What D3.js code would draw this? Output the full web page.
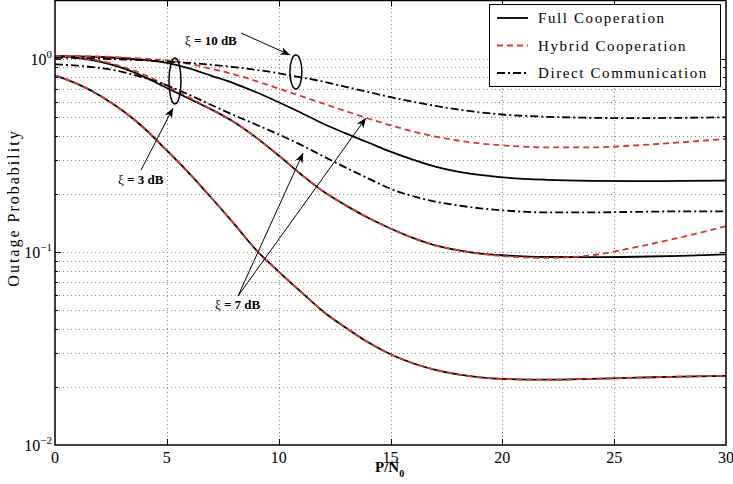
<!DOCTYPE html>
<meta charset='utf-8'>
<style>
    body { margin: 0; background: #fff; }
    svg text { font-family: 'Liberation Serif', 'Times New Roman', Times, serif; }
</style>
<body>
    <script src='https://d3js.org/d3.v7.min.js'></script>
    <script>
        var width = 733,
            height = 484;

        // P/N0 sample points
        var xs = [0,1,2,3,4,5,6,7,8,9,10,11,12,13,14,15,16,17,18,19,20,22,24,26,28,30];

        // xi = 10 dB group
        var full10   = [1.03,1.028,1.02,1.005,0.985,0.95,0.89,0.815,0.745,0.67,0.595,0.525,0.46,0.41,0.368,0.33,0.3,0.276,0.26,0.25,0.243,0.236,0.233,0.232,0.233,0.234];
        var hybrid10 = [1.03,1.03,1.025,1.015,1.0,0.98,0.94,0.885,0.83,0.765,0.70,0.64,0.585,0.535,0.49,0.452,0.42,0.395,0.377,0.364,0.356,0.347,0.347,0.356,0.369,0.384];
        var direct10 = [1.01,1.008,1.0,0.99,0.98,0.965,0.95,0.93,0.905,0.875,0.84,0.8,0.76,0.715,0.672,0.632,0.598,0.57,0.546,0.527,0.514,0.5,0.494,0.492,0.494,0.497];
        // xi = 7 dB group
        var full7    = [1.03,1.01,0.965,0.895,0.805,0.705,0.62,0.545,0.47,0.39,0.315,0.252,0.205,0.174,0.15,0.132,0.118,0.108,0.102,0.098,0.096,0.094,0.0938,0.0943,0.0953,0.097];
        var hybrid7  = [1.03,1.015,0.975,0.91,0.825,0.725,0.63,0.545,0.47,0.39,0.315,0.252,0.205,0.174,0.15,0.132,0.118,0.108,0.102,0.098,0.095,0.093,0.096,0.106,0.119,0.136];
        var direct7  = [0.935,0.92,0.895,0.855,0.795,0.727,0.65,0.575,0.51,0.455,0.405,0.358,0.312,0.273,0.24,0.212,0.194,0.182,0.174,0.168,0.164,0.16,0.16,0.161,0.162,0.162];
        // xi = 3 dB group
        var full3    = [0.82,0.74,0.645,0.54,0.435,0.335,0.255,0.19,0.14,0.102,0.079,0.062,0.049,0.0405,0.034,0.0295,0.0265,0.0245,0.0232,0.0224,0.022,0.0218,0.022,0.0223,0.0226,0.0228];
        var hybrid3  = [0.82,0.74,0.645,0.54,0.435,0.335,0.255,0.19,0.14,0.102,0.079,0.062,0.049,0.0405,0.034,0.0295,0.0265,0.0245,0.0232,0.0224,0.022,0.0218,0.022,0.0223,0.0226,0.0228];

        var xTicks = [0,5,10,15,20,25,30];
        var yDecades = [0.01, 0.1, 1];
        var yExps = ['\u22122', '\u22121', '0'];
        var legendLabels = ['Full Cooperation', 'Hybrid Cooperation', 'Direct Communication'];

        var red = '#d8372b';
        var styles = {
            full:   { color: '#000', dash: null },
            hybrid: { color: red, dash: '6,4' },
            direct: { color: '#000', dash: '8,3,2,3' }
        };

        var svg = d3.select('body').append('svg')
            .attr('width', width)
            .attr('height', height)
            .style('display', 'block');

        var x = d3.scaleLinear().domain([0, 30]).range([55, 726]);
        var y = d3.scaleLog().domain([0.01, 2]).range([445, 0.5]);

        // grid
        var minors = [];
        [0.01, 0.1, 1].forEach(function(d) {
            for (var k = 1; k <= 9; k++) if (d * k < 2) minors.push(d * k);
        });
        var grid = svg.append('g').attr('stroke', '#8a8a8a').attr('stroke-width', 1).attr('stroke-dasharray', '1,3');
        grid.selectAll('.gy').data(minors.filter(function(d) { return d > 0.01; })).enter().append('line')
            .attr('x1', x(0)).attr('x2', x(30))
            .attr('y1', function(d) { return Math.round(y(d)) + 0.5; })
            .attr('y2', function(d) { return Math.round(y(d)) + 0.5; });
        grid.selectAll('.gx').data(xTicks.slice(1, -1)).enter().append('line')
            .attr('y1', y(0.01)).attr('y2', y(2))
            .attr('x1', function(d) { return Math.round(x(d)) + 0.5; })
            .attr('x2', function(d) { return Math.round(x(d)) + 0.5; });

        // curves
        var line = d3.line()
            .x(function(d) { return x(d[0]); })
            .y(function(d) { return y(d[1]); })
            .curve(d3.curveMonotoneX);

        var series = [
            [full10, 'full'], [full7, 'full'], [full3, 'full'],
            [hybrid10, 'hybrid'], [hybrid7, 'hybrid'], [hybrid3, 'hybrid'],
            [direct10, 'direct'], [direct7, 'direct']
        ];
        svg.append('g').selectAll('path').data(series).enter().append('path')
            .attr('fill', 'none')
            .attr('stroke', function(d) { return styles[d[1]].color; })
            .attr('stroke-width', 1.8)
            .attr('stroke-dasharray', function(d) { return styles[d[1]].dash; })
            .attr('d', function(d) { return line(d[0].map(function(v, i) { return [xs[i], v]; })); });

        // frame + ticks
        svg.append('rect')
            .attr('x', x(0)).attr('y', y(2))
            .attr('width', x(30) - x(0)).attr('height', y(0.01) - y(2))
            .attr('fill', 'none').attr('stroke', '#000').attr('stroke-width', 1.5);

        var ticks = svg.append('g').attr('stroke', '#000').attr('stroke-width', 1);
        xTicks.slice(1, -1).forEach(function(t) {
            var px = Math.round(x(t)) + 0.5;
            ticks.append('line').attr('x1', px).attr('x2', px).attr('y1', y(0.01)).attr('y2', y(0.01) - 6);
            ticks.append('line').attr('x1', px).attr('x2', px).attr('y1', y(2)).attr('y2', y(2) + 6);
        });
        minors.filter(function(d) { return d > 0.01; }).forEach(function(d) {
            var py = Math.round(y(d)) + 0.5;
            var len = yDecades.indexOf(d) >= 0 ? 6 : 3;
            ticks.append('line').attr('x1', x(0)).attr('x2', x(0) + len).attr('y1', py).attr('y2', py);
            ticks.append('line').attr('x1', x(30)).attr('x2', x(30) - len).attr('y1', py).attr('y2', py);
        });

        // tick labels
        svg.append('g').selectAll('text').data(xTicks).enter().append('text')
            .attr('x', function(d) { return x(d); })
            .attr('y', 463)
            .attr('text-anchor', 'middle')
            .attr('font-size', 16)
            .text(function(d) { return d; });

        var yl = svg.append('g').selectAll('text').data(yDecades).enter().append('text')
            .attr('x', 52)
            .attr('y', function(d) { return y(d) + 6; })
            .attr('text-anchor', 'end')
            .attr('font-size', 16);
        yl.append('tspan').text('10');
        yl.append('tspan').attr('font-size', 11).attr('dy', -7)
            .text(function(d, i) { return yExps[i]; });

        // axis titles
        svg.append('text')
            .attr('transform', 'translate(19,208) rotate(-90)')
            .attr('text-anchor', 'middle')
            .attr('font-size', 16)
            .attr('letter-spacing', 2)
            .text('Outage Probability');

        var xt = svg.append('text').attr('x', 375).attr('y', 472)
            .attr('font-size', 15).attr('font-weight', 'bold');
        xt.append('tspan').text('P/N');
        xt.append('tspan').attr('font-size', 10).attr('dy', 5).text('0');

        // legend
        var lg = svg.append('g');
        lg.append('rect').attr('x', 489.5).attr('y', 4.5).attr('width', 231).attr('height', 82)
            .attr('fill', '#fff').attr('stroke', '#000').attr('stroke-width', 1);
        ['full', 'hybrid', 'direct'].forEach(function(k, i) {
            var ly = 18 + i * 27.5;
            lg.append('line').attr('x1', 497).attr('x2', 528).attr('y1', ly).attr('y2', ly)
                .attr('stroke', styles[k].color).attr('stroke-width', 1.8)
                .attr('stroke-dasharray', styles[k].dash);
            lg.append('text').attr('x', 538).attr('y', ly + 5)
                .attr('font-size', 15).attr('letter-spacing', 1.6)
                .text(legendLabels[i]);
        });

        // annotations
        svg.append('defs').append('marker')
            .attr('id', 'ah').attr('viewBox', '-10 -5 12 10')
            .attr('refX', 0).attr('refY', 0)
            .attr('markerWidth', 12).attr('markerHeight', 10)
            .attr('markerUnits', 'userSpaceOnUse')
            .attr('orient', 'auto')
            .append('path').attr('d', 'M0,0 L-10,-4 L-7,0 L-10,4 Z').attr('fill', '#000');

        var ann = svg.append('g').attr('stroke', '#000').attr('fill', 'none').attr('stroke-width', 1);
        function arrow(a, b) {
            ann.append('line')
                .attr('x1', x(a[0])).attr('y1', y(a[1]))
                .attr('x2', x(b[0])).attr('y2', y(b[1]))
                .attr('marker-end', 'url(#ah)');
        }
        ann.append('ellipse').attr('cx', x(10.77)).attr('cy', y(0.852)).attr('rx', 6).attr('ry', 17).attr('stroke-width', 1.5);
        ann.append('ellipse').attr('cx', x(5.365)).attr('cy', y(0.766)).attr('rx', 6).attr('ry', 23).attr('stroke-width', 1.5);
        arrow([8.32, 1.357], [10.51, 1.044]);
        arrow([3.845, 0.265], [5.276, 0.555]);
        arrow([8.18, 0.059], [11.09, 0.3246]);
        arrow([8.18, 0.059], [13.9, 0.4928]);

        function label(px, pv, txt) {
            var t = svg.append('text').attr('x', x(px)).attr('y', y(pv)).attr('font-size', 13);
            t.append('tspan').text('\u03be ');
            t.append('tspan').attr('font-weight', 'bold').text(txt);
        }
        label(5.81, 1.176, '= 10 dB');
        label(2.817, 0.2244, '= 3 dB');
        label(7.15, 0.0506, '= 7 dB');
    </script>
</body>
